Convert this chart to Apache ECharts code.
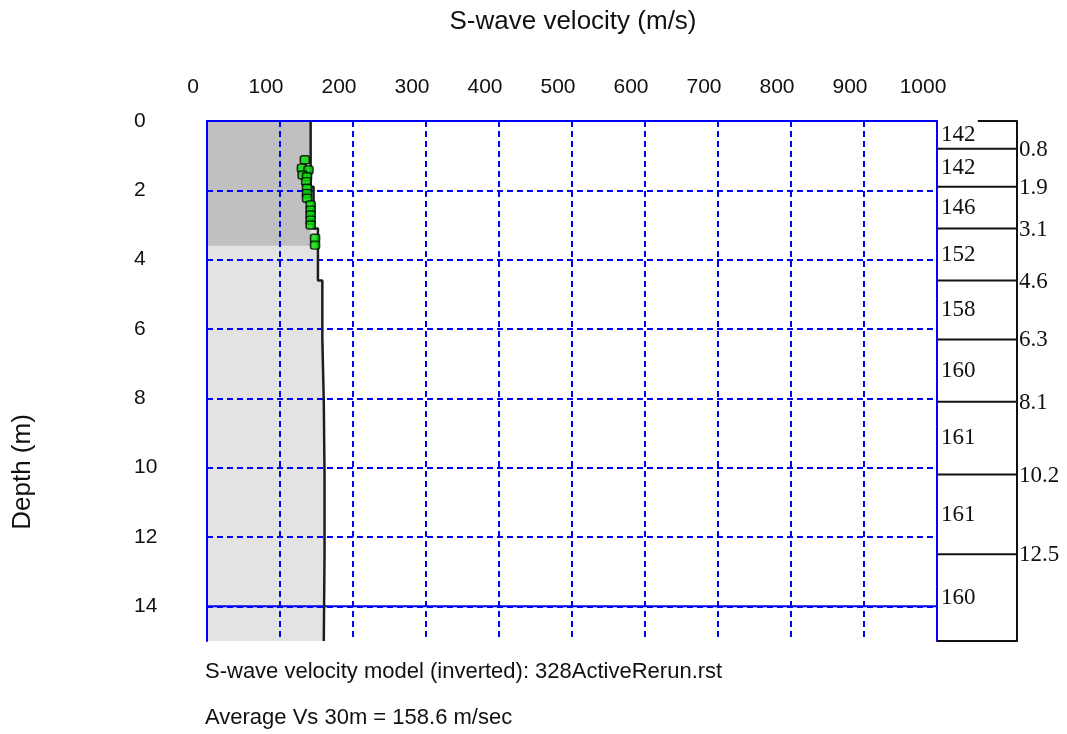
<!DOCTYPE html>
<html>
<head>
<meta charset="utf-8">
<script src="https://cdn.jsdelivr.net/npm/echarts@6/dist/echarts.min.js"></script>
<style>
  html, body { margin: 0; padding: 0; background: #ffffff; }
  #chart { width: 1067px; height: 734px; }
</style>
</head>
<body>
<div id="chart"></div>
<script>
// Layered S-wave velocity model (m/s) and layer interface depths (m)
const layerVs = [142, 142, 146, 152, 158, 160, 161, 161, 160];
const interfaceDepths = [0.8, 1.9, 3.1, 4.6, 6.3, 8.1, 10.2, 12.5];
const modelBottom = 15;

// Measured dispersion points mapped to depth
const pointVs = [134, 130, 139, 131, 137, 136, 137, 137, 137, 142, 142, 142, 142, 142, 148, 148];
const pointDepth = [1.12, 1.36, 1.41, 1.56, 1.61, 1.75, 1.94, 2.09, 2.23, 2.42, 2.57, 2.71, 2.86, 3.0, 3.38, 3.58];

// Shallow zone covered by the data, and the depth marker line
const shallowVs = 142;
const shallowDepth = 3.6;
const markerDepth = 14;

// Axis ranges
const vsAxis = { min: 0, max: 1000, interval: 100 };
const depthAxis = { min: 0, max: 15, interval: 2 };

const fileName = '328ActiveRerun.rst';
const averageVs30 = 158.6;

const BLUE = '#0000ff';
const SANS = '"Liberation Sans", Arial, sans-serif';
const SERIF = '"Liberation Serif", "Times New Roman", serif';

// Top and bottom of each layer
const layerTops = [0].concat(interfaceDepths);
const layerBottoms = interfaceDepths.concat([modelBottom]);

// Step profile: vertical segment per layer, horizontal jumps at interfaces
const profile = [];
layerVs.forEach((v, i) => {
  profile.push([v, layerTops[i]]);
  profile.push([v, layerBottoms[i]]);
});

const points = pointVs.map((v, i) => [v, pointDepth[i]]);

const chart = echarts.init(document.getElementById('chart'), null, { renderer: 'canvas' });

const dashed = { show: true, showMinLine: false, showMaxLine: false,
  lineStyle: { color: BLUE, width: 2, type: [6, 4] } };

chart.setOption({
  animation: false,
  backgroundColor: '#ffffff',
  grid: [
    { left: 207, top: 121, width: 730, height: 520 },
    { left: 937, top: 121, width: 80, height: 520 }
  ],
  xAxis: [
    {
      type: 'value', gridIndex: 0, position: 'top',
      min: vsAxis.min, max: vsAxis.max, interval: vsAxis.interval,
      axisLine: { show: true, onZero: false, lineStyle: { color: BLUE, width: 2 } },
      axisTick: { show: false },
      axisLabel: { color: '#111', fontFamily: SANS, fontSize: 21, margin: 23,
        padding: [0, 28, 0, 0], formatter: v => String(v) },
      splitLine: dashed
    },
    { type: 'value', gridIndex: 1, min: 0, max: 1, show: false }
  ],
  yAxis: [
    {
      type: 'value', gridIndex: 0, inverse: true,
      min: depthAxis.min, max: depthAxis.max, interval: depthAxis.interval,
      axisLine: { show: true, onZero: false, lineStyle: { color: BLUE, width: 2 } },
      axisTick: { show: false },
      axisLabel: { color: '#111', fontFamily: SANS, fontSize: 21, margin: 73,
        align: 'left', showMaxLabel: false, formatter: v => String(v) },
      splitLine: dashed
    },
    {
      type: 'value', gridIndex: 0, inverse: true, position: 'right',
      min: depthAxis.min, max: depthAxis.max,
      axisLine: { show: true, onZero: false, lineStyle: { color: BLUE, width: 2 } },
      axisTick: { show: false }, axisLabel: { show: false }, splitLine: { show: false }
    },
    {
      type: 'value', gridIndex: 1, inverse: true, position: 'right',
      min: depthAxis.min, max: modelBottom,
      axisLine: { show: true, onZero: false, lineStyle: { color: '#111', width: 2 } },
      axisTick: { show: false }, axisLabel: { show: false }, splitLine: { show: false }
    }
  ],
  graphic: [
    { type: 'text', x: 573, y: 22,
      style: { text: 'S-wave velocity (m/s)', font: '26px ' + SANS, fill: '#111',
        align: 'center', verticalAlign: 'middle' } },
    { type: 'text', x: 23, y: 472, rotation: Math.PI / 2,
      style: { text: 'Depth (m)', font: '26px ' + SANS, fill: '#111',
        align: 'center', verticalAlign: 'middle' } },
    { type: 'text', x: 205, y: 672,
      style: { text: 'S-wave velocity model (inverted): ' + fileName, font: '22px ' + SANS,
        fill: '#111', align: 'left', verticalAlign: 'middle' } },
    { type: 'text', x: 205, y: 718,
      style: { text: 'Average Vs 30m = ' + averageVs30.toFixed(1) + ' m/sec', font: '22px ' + SANS,
        fill: '#111', align: 'left', verticalAlign: 'middle' } }
  ],
  series: [
    {
      // Area under the profile, the shallow zone and the depth marker
      type: 'custom', xAxisIndex: 0, yAxisIndex: 0, z: -1,
      data: [[0]],
      renderItem: function (params, api) {
        const poly = [api.coord([0, depthAxis.min])]
          .concat(profile.map(p => api.coord(p)))
          .concat([api.coord([0, modelBottom])]);
        const a = api.coord([0, 0]);
        const b = api.coord([shallowVs, shallowDepth]);
        const m0 = api.coord([vsAxis.min, markerDepth]);
        const m1 = api.coord([vsAxis.max, markerDepth]);
        return {
          type: 'group',
          children: [
            { type: 'polygon', shape: { points: poly }, style: { fill: '#e3e3e3' } },
            { type: 'rect', shape: { x: a[0], y: a[1], width: b[0] - a[0], height: b[1] - a[1] },
              style: { fill: '#c0c0c0' } },
            { type: 'line', shape: { x1: m0[0], y1: m0[1], x2: m1[0], y2: m1[1] },
              style: { stroke: BLUE, lineWidth: 2 } }
          ]
        };
      }
    },
    {
      type: 'line', xAxisIndex: 0, yAxisIndex: 0, z: 3,
      data: profile, showSymbol: false, symbol: 'none',
      lineStyle: { color: '#1e1e1e', width: 2.5 }
    },
    {
      type: 'scatter', xAxisIndex: 0, yAxisIndex: 0, z: 4,
      data: points, symbol: 'roundRect', symbolSize: [9, 8],
      itemStyle: { color: '#00e000', borderColor: '#000', borderWidth: 1.5 }
    },
    {
      // Layer table: interfaces, layer velocities and interface depths
      type: 'custom', xAxisIndex: 1, yAxisIndex: 2, z: 3,
      data: layerVs.map((v, i) => [i]),
      renderItem: function (params, api) {
        const i = api.value(0);
        const top = layerTops[i];
        const bot = layerBottoms[i];
        const l = api.coord([0, bot]);
        const r = api.coord([1, bot]);
        const mid = api.coord([0, (top + bot) / 2]);
        const children = [
          { type: 'line', shape: { x1: l[0], y1: l[1], x2: r[0], y2: r[1] },
            style: { stroke: '#111', lineWidth: 2 } },
          { type: 'text', x: mid[0] + 4, y: mid[1],
            style: { text: String(layerVs[i]), font: '23px ' + SERIF, fill: '#111',
              align: 'left', verticalAlign: 'middle' } }
        ];
        if (i < interfaceDepths.length) {
          children.push({ type: 'text', x: r[0] + 2, y: r[1] + 1,
            style: { text: String(bot), font: '23px ' + SERIF, fill: '#111',
              align: 'left', verticalAlign: 'middle' } });
        }
        if (i === 0) {
          const t0 = api.coord([0.51, 0]);
          const t1 = api.coord([1, 0]);
          children.push({ type: 'line', shape: { x1: t0[0], y1: t0[1], x2: t1[0], y2: t1[1] },
            style: { stroke: '#111', lineWidth: 2 } });
        }
        return { type: 'group', children: children };
      }
    }
  ]
});
</script>
</body>
</html>
